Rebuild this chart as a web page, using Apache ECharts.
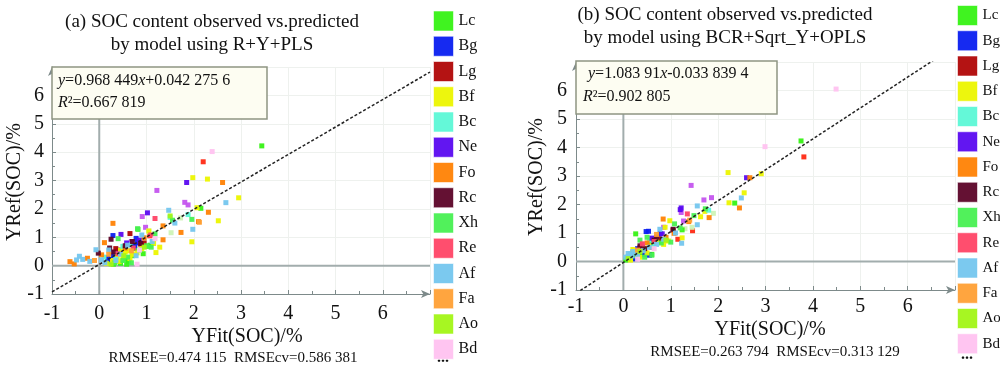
<!DOCTYPE html>
<html><head><meta charset="utf-8">
<script src="https://cdn.jsdelivr.net/npm/echarts@6/dist/echarts.min.js"></script>
<style>html,body{margin:0;padding:0;background:#fff}#c{width:1000px;height:374px}</style>
</head><body><div id="c"></div><script>
const categories = ['Lc','Bg','Lg','Bf','Bc','Ne','Fo','Rc','Xh','Re','Af','Fa','Ao','Bd'];
const colors = ['#36f214','#0a1ff0','#b00606','#ecf500','#5cf8d6','#5a0af0','#ff8204','#5c0428','#48f052','#ff4466','#74c6ee','#ffa035','#a2f516','#ffc2f0'];
const extraNames = ['other1','other2','other3'];
const extraColors = ['#c455ee','#ff2a14','#cdf3b6'];
const xTicks = [-1,0,1,2,3,4,5,6];
const yTicks = [-1,0,1,2,3,4,5,6];

// Panel (a): R+Y+PLS
const fitA = {slope: 0.968449, intercept: 0.0422756};
const A_Lc = [[3.44,4.22],[2.15,2.02],[0.82,1.28],[0.55,0.22],[0.62,0.15],[0.70,0.35],[0.45,0.08],[0.93,0.42],[1.08,0.72],[0.30,0.05],[0.75,0.60],[1.02,0.68],[0.58,0.05],[0.20,0.12]];
const A_Bg = [[0.29,1.06],[0.78,0.96],[0.25,0.45],[0.18,0.28],[0.30,0.35],[0.22,0.20],[0.80,0.80],[0.40,0.55],[0.26,0.15],[0.75,0.70]];
const A_Lg = [[0.65,1.13],[0.88,0.75],[0.35,0.60],[0.95,0.80]];
const A_Bf = [[1.98,3.10],[2.29,3.05],[2.95,2.39],[2.07,2.04],[2.52,1.58],[1.96,0.84],[1.20,0.46],[1.28,0.65],[0.45,0.55],[0.55,0.48],[0.62,0.52],[0.70,0.40],[0.38,0.32],[0.50,0.30],[0.80,0.45],[0.90,0.60],[1.05,1.22],[0.28,0.18],[0.15,0.08],[0.65,0.25],[1.15,0.78],[0.42,0.15]];
const A_Bc = [[1.88,1.80],[0.50,0.68],[0.10,0.30],[0.35,0.22],[0.65,0.75],[1.50,1.70]];
const A_Ne = [[1.85,2.93],[1.02,1.86],[0.46,1.10],[0.58,0.80],[0.85,0.90]];
const A_Fo = [[2.61,2.93],[2.31,1.88],[1.73,1.17],[1.35,0.91],[0.29,1.49],[0.11,0.81],[-0.62,0.14],[-0.53,0.06],[-0.25,0.26],[2.10,1.55],[0.55,0.62],[0.95,0.98],[0.05,0.38],[1.35,1.40]];
const A_Rc = [[0.25,0.93],[-0.02,0.44],[0.88,0.78],[0.22,0.62],[0.55,0.70],[0.70,0.85],[0.30,0.48]];
const A_Xh = [[1.96,1.63],[1.55,1.60],[0.81,1.30],[1.18,1.12],[0.60,0.30],[0.40,0.95],[0.85,0.55],[0.50,0.18],[1.10,0.65],[0.68,0.10],[0.33,0.10],[1.00,0.70]];
const A_Re = [[1.18,1.66],[1.09,1.08],[0.72,0.62],[0.40,0.42]];
const A_Af = [[2.68,2.22],[1.47,1.95],[1.98,1.28],[1.60,1.50],[1.12,0.85],[-0.42,0.33],[-0.35,0.22],[-0.20,0.15],[-0.07,0.56],[0.05,0.20],[0.12,0.10],[0.35,0.18],[0.45,0.40],[0.60,0.72],[0.90,1.08],[-0.48,0.20],[0.20,0.55],[0.78,0.35]];
const A_Fa = [[2.12,1.53],[0.20,0.40],[0.68,0.52],[-0.10,0.18]];
const A_Ao = [[1.50,1.75],[0.95,0.65],[0.25,0.05],[0.52,0.35]];
const A_Bd = [[2.51,6.02],[2.39,4.02],[0.80,0.05],[1.18,0.95],[0.85,0.55]];
const A_other1 = [[1.22,2.65],[1.81,2.23],[1.88,2.14],[0.91,1.73],[0.98,1.35],[0.68,0.85]];
const A_other2 = [[2.20,3.66],[1.07,1.05],[0.72,0.70]];
const A_other3 = [[1.52,1.16],[1.05,1.22],[1.72,1.68]];

// Panel (b): BCR+Sqrt_Y+OPLS
const fitB = {slope: 1.08391, intercept: -0.0338394};
const B_Lc = [[3.75,4.23],[2.35,2.05],[1.24,1.11],[0.26,0.97],[0.05,0.05],[0.20,0.12],[0.40,0.30],[0.60,0.25],[0.35,0.20],[0.55,0.65],[0.80,0.70]];
const B_Bg = [[0.53,1.06],[0.48,1.05],[0.20,0.30],[0.30,0.45],[0.40,0.50],[0.55,0.22],[0.78,0.98],[0.45,0.25],[0.15,0.22],[0.25,0.10]];
const B_Lg = [[0.75,0.80],[1.05,1.10],[0.35,0.48]];
const B_Bf = [[2.21,3.12],[2.91,3.08],[2.55,2.41],[2.23,2.06],[1.72,1.76],[1.63,1.57],[0.98,1.43],[1.24,0.83],[0.20,0.42],[0.30,0.35],[0.45,0.45],[0.60,0.55],[0.70,0.78],[0.85,0.60],[0.95,0.72],[0.35,0.15],[0.15,0.05],[0.50,0.30],[0.88,1.20],[0.25,0.30]];
const B_Bc = [[1.80,1.80],[0.55,0.75],[0.15,0.25],[0.10,0.18],[0.65,0.60]];
const B_Ne = [[2.60,2.94],[1.22,1.88],[1.20,1.82],[0.82,0.97],[0.60,0.82]];
const B_Fo = [[2.67,2.94],[2.45,1.88],[1.81,1.54],[1.38,1.40],[0.84,1.49],[1.07,0.99],[0.90,0.85],[0.50,0.65],[0.40,0.42]];
const B_Rc = [[1.05,1.13],[0.70,0.85],[0.45,0.45],[0.65,0.75],[0.35,0.55]];
const B_Xh = [[1.73,1.85],[1.49,1.61],[1.08,1.32],[0.35,0.75],[0.60,0.22],[0.45,0.15],[0.80,0.65],[1.00,0.68],[0.25,0.20],[0.50,0.85],[1.20,1.18]];
const B_Re = [[1.35,1.67],[0.65,0.70],[0.40,0.62]];
const B_Af = [[2.49,2.23],[1.56,1.95],[1.56,1.29],[1.23,0.64],[0.77,1.13],[0.05,0.15],[0.10,0.28],[0.18,0.20],[0.30,0.25],[0.42,0.38],[0.55,0.50],[0.70,0.60],[0.85,0.78],[1.10,1.00],[0.20,0.35]];
const B_Fa = [[1.40,1.45],[0.70,0.95],[0.30,0.40]];
const B_Ao = [[0.90,0.75],[0.35,0.35],[0.10,0.10]];
const B_Bd = [[4.49,6.05],[2.99,4.03],[0.30,0.08],[0.65,0.45]];
const B_other1 = [[1.43,2.67],[1.86,2.24],[1.70,2.16],[1.22,1.72],[0.85,1.20],[1.27,1.42],[0.40,0.60]];
const B_other2 = [[3.81,3.67],[1.46,1.08],[1.15,0.78],[0.60,0.50]];
const B_other3 = [[1.90,1.69],[1.45,1.20],[1.30,1.15],[0.60,0.80]];

const dataA = [A_Lc,A_Bg,A_Lg,A_Bf,A_Bc,A_Ne,A_Fo,A_Rc,A_Xh,A_Re,A_Af,A_Fa,A_Ao,A_Bd];
const dataB = [B_Lc,B_Bg,B_Lg,B_Bf,B_Bc,B_Ne,B_Fo,B_Rc,B_Xh,B_Re,B_Af,B_Fa,B_Ao,B_Bd];
const extraA = [A_other1,A_other2,A_other3];
const extraB = [B_other1,B_other2,B_other3];

const SERIF = 'Liberation Serif, Times New Roman, serif';
const AXC = '#7d8a8a';

function xAxisCfg(gi, margin){
  return {type:'value', gridIndex:gi, min:-1, max:7, interval:1,
    axisLine:{show:true, onZero:false, lineStyle:{color:AXC,width:1}, symbol:['none','arrow'], symbolSize:[6,9]},
    axisTick:{show:true, inside:true, length:4, lineStyle:{color:AXC}},
    minorTick:{show:true, splitNumber:2, length:3, lineStyle:{color:AXC}},
    axisLabel:{fontFamily:SERIF, fontSize:20, color:'#111', margin:margin,
      formatter:v=> xTicks.indexOf(v)>=0 ? String(v) : ''},
    splitLine:{show:true, lineStyle:{color:'#eef1ee', width:1}}};
}
function yAxisCfg(gi, margin){
  return {type:'value', gridIndex:gi, min:-1, max:7, interval:1,
    axisLine:{show:true, onZero:false, lineStyle:{color:AXC,width:1}, symbol:['none','arrow'], symbolSize:[6,9]},
    axisTick:{show:true, inside:true, length:4, lineStyle:{color:AXC}},
    minorTick:{show:true, splitNumber:2, length:3, lineStyle:{color:AXC}},
    axisLabel:{fontFamily:SERIF, fontSize:20, color:'#111', margin:margin,
      formatter:v=> yTicks.indexOf(v)>=0 ? String(v) : ''},
    splitLine:{show:true, lineStyle:{color:'#eef1ee', width:1}}};
}

const series = [];
function addPanel(gi, data, extra, fit){
  series.push({type:'line', xAxisIndex:gi, yAxisIndex:gi, data:[[-1,0],[7,0]], symbol:'none', silent:true, z:1,
    lineStyle:{color:'#a2adad', width:2}});
  series.push({type:'line', xAxisIndex:gi, yAxisIndex:gi, data:[[0,-1],[0,7]], symbol:'none', silent:true, z:1,
    lineStyle:{color:'#a2adad', width:2}});
  extra.forEach((d,i)=>series.push({name:extraNames[i], type:'scatter', xAxisIndex:gi, yAxisIndex:gi, data:d,
    symbol:'rect', symbolSize:5, itemStyle:{color:extraColors[i], opacity:0.95}, z:3}));
  data.forEach((d,i)=>series.push({name:categories[i], type:'scatter', xAxisIndex:gi, yAxisIndex:gi, data:d,
    symbol:'rect', symbolSize:5, itemStyle:{color:colors[i], opacity:0.95}, z:3}));
  series.push({type:'line', xAxisIndex:gi, yAxisIndex:gi, symbol:'none', silent:true, z:4, clip:true,
    data:[[-1, fit.slope*-1+fit.intercept],[7, fit.slope*7+fit.intercept]],
    lineStyle:{color:'#222', width:1.5, type:[3,2]}});
}
addPanel(0, dataA, extraA, fitA);
addPanel(1, dataB, extraB, fitB);

function legendCfg(left, top, fs){
  return {data:categories, orient:'vertical', left:left, top:top, padding:0, icon:'rect', itemWidth:20, itemHeight:20,
    itemGap:4.25, selectedMode:false,
    itemStyle:{borderColor:'rgba(255,255,255,0.6)', borderWidth:1},
    textStyle:{fontFamily:SERIF, fontSize:fs, color:'#111', lineHeight:20}};
}

function fmtEq(slopeTxt, icptTxt){
  return '{i|y}=' + slopeTxt + '{i|x}' + icptTxt;
}
const eqRich = {i:{fontStyle:'italic', fontFamily:SERIF, fontSize:16, fill:'#111'}};

const graphic = [
  {type:'text', x:212, y:10, style:{text:'(a) SOC content observed vs.predicted\nby model using R+Y+PLS', font:'19px '+SERIF, fill:'#111', textAlign:'center', lineHeight:23.5}},
  {type:'text', x:725, y:4, style:{text:'(b) SOC content observed vs.predicted\nby model using BCR+Sqrt_Y+OPLS', font:'19px '+SERIF, fill:'#111', textAlign:'center', lineHeight:22.5}},
  {type:'rect', shape:{x:52, y:67, width:215, height:52}, style:{fill:'#fdfdf2', stroke:'#8e9582', lineWidth:1.5}, z:10},
  {type:'text', x:58, y:81, z:11, style:{text:fmtEq('0.968 449','+0.042 275 6'), rich:eqRich, font:'16px '+SERIF, fill:'#111', textVerticalAlign:'middle'}},
  {type:'text', x:58, y:103, z:11, style:{text:'{i|R}²=0.667 819', rich:eqRich, font:'16px '+SERIF, fill:'#111', textVerticalAlign:'middle'}},
  {type:'rect', shape:{x:576, y:61, width:201, height:53}, style:{fill:'#fdfdf2', stroke:'#8e9582', lineWidth:1.5}, z:10},
  {type:'text', x:588, y:74, z:11, style:{text:fmtEq('1.083 91','-0.033 839 4'), rich:eqRich, font:'16px '+SERIF, fill:'#111', textVerticalAlign:'middle'}},
  {type:'text', x:583, y:96.5, z:11, style:{text:'{i|R}²=0.902 805', rich:eqRich, font:'16px '+SERIF, fill:'#111', textVerticalAlign:'middle'}},
  {type:'text', x:247, y:337, style:{text:'YFit(SOC)/%', font:'20px '+SERIF, fill:'#111', textAlign:'center', textVerticalAlign:'middle'}},
  {type:'text', x:15, y:182, rotation:Math.PI/2, style:{text:'YRef(SOC)/%', font:'20px '+SERIF, fill:'#111', textAlign:'center', textVerticalAlign:'middle'}},
  {type:'text', x:770, y:330, style:{text:'YFit(SOC)/%', font:'20px '+SERIF, fill:'#111', textAlign:'center', textVerticalAlign:'middle'}},
  {type:'text', x:537, y:177, rotation:Math.PI/2, style:{text:'YRef(SOC)/%', font:'20px '+SERIF, fill:'#111', textAlign:'center', textVerticalAlign:'middle'}},
  {type:'text', x:233, y:358, style:{text:'RMSEE=0.474 115  RMSEcv=0.586 381', font:'15px '+SERIF, fill:'#111', textAlign:'center', textVerticalAlign:'middle'}},
  {type:'text', x:775, y:352, style:{text:'RMSEE=0.263 794  RMSEcv=0.313 129', font:'15px '+SERIF, fill:'#111', textAlign:'center', textVerticalAlign:'middle'}},
  {type:'text', x:443, y:358, style:{text:'...', font:'bold 16px '+SERIF, fill:'#111', textAlign:'center', textVerticalAlign:'middle'}},
  {type:'text', x:967, y:355, style:{text:'...', font:'bold 16px '+SERIF, fill:'#111', textAlign:'center', textVerticalAlign:'middle'}}
];

const option = {
  backgroundColor:'#fff',
  animation:false,
  grid:[{left:52, top:67, width:378, height:227}, {left:576, top:62, width:379, height:228}],
  xAxis:[xAxisCfg(0,10), xAxisCfg(1,7)],
  yAxis:[yAxisCfg(0,8), yAxisCfg(1,9)],
  legend:[legendCfg(433, 10.5, 16), legendCfg(957, 5, 15)],
  series:series,
  graphic:graphic
};
const chart = echarts.init(document.getElementById('c'), null, {renderer:'canvas'});
chart.setOption(option);
</script></body></html>
